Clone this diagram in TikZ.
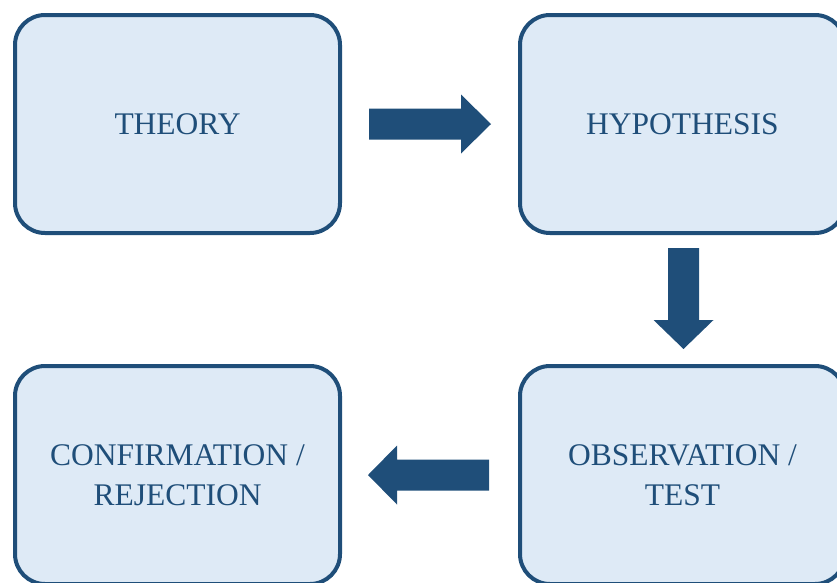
\documentclass[tikz,border=0pt]{standalone}
\usepackage{fontspec}
\setmainfont{Liberation Serif}
\usetikzlibrary{calc}
\definecolor{edge}{HTML}{1F4E79}
\definecolor{panel}{HTML}{DEEAF6}
\begin{document}
\begin{tikzpicture}[x=1pt,y=-1pt,
  stage/.style={draw=edge, fill=panel, line width=4pt, rounded corners=30pt,
    minimum width=325pt, minimum height=218pt, inner sep=0pt, align=center,
    text=edge, font=\fontsize{31.5}{40}\selectfont},
  blockarrow/.style={fill=edge, draw=none}]
\useasboundingbox (0,0) rectangle (837,582);

% the four stages of the cycle
\node[stage] (theory) at (177.5,124) {THEORY};
\node[stage] (hypo)   at (682.5,124) {HYPOTHESIS};
\node[stage] (obs)    at (682.5,475) {OBSERVATION /\\TEST};
\node[stage] (conf)   at (177.5,475) {CONFIRMATION /\\REJECTION};

% tails of the block arrows
\coordinate (t1) at ($(theory.east)+(27,0)$);
\coordinate (t2) at ($(hypo.south)+(1,13)$);
\coordinate (t3) at ($(obs.west)+(-29,0)$);

% theory -> hypothesis
\fill[blockarrow] (t1) ++(0,-15.5) -- ++(92,0) -- ++(0,-14) -- ++(30,29.5)
  -- ++(-30,29.5) -- ++(0,-14) -- ++(-92,0) -- cycle;
% hypothesis -> observation
\fill[blockarrow] (t2) ++(-15.5,0) -- ++(0,72) -- ++(-14.5,0) -- ++(30,29)
  -- ++(30,-29) -- ++(-14.5,0) -- ++(0,-72) -- cycle;
% observation -> confirmation
\fill[blockarrow] (t3) ++(0,-15.5) -- ++(-92,0) -- ++(0,-14) -- ++(-29,29.5)
  -- ++(29,29.5) -- ++(0,-14) -- ++(92,0) -- cycle;
\end{tikzpicture}
\end{document}
